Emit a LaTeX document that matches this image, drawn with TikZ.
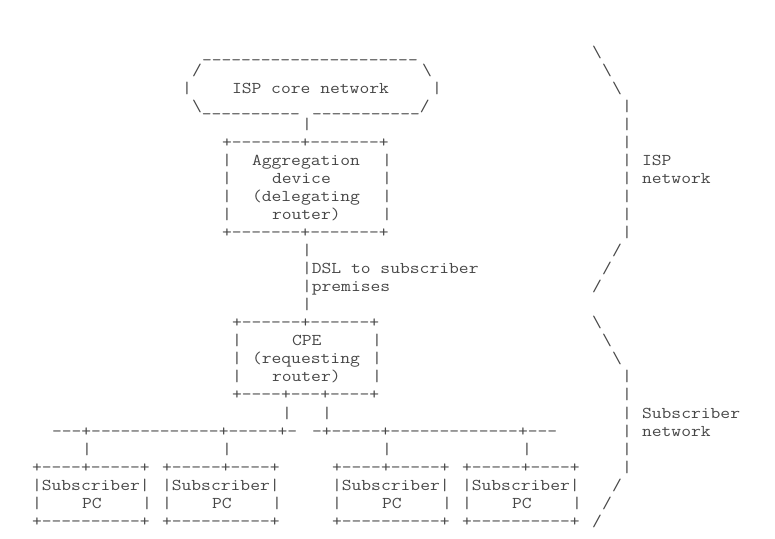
\documentclass[tikz,border=0pt]{standalone}
\usepackage{graphicx}
\tikzset{
  asc/.style={inner sep=0pt, outer sep=0pt, anchor=base west, text=black!72,
              font=\fontsize{16.5}{18}\selectfont\ttfamily}
}
% place text at (line, column) of the character grid
\newcommand\putch[4]{\node[asc] (#1) at ({32+10*#3},{57+18.05*#2}) {\scalebox{1.1544}[1]{#4}};}
\newcommand\hy[1]{\foreach\i in {1,...,#1}{-}}
\newcommand\us[1]{\foreach\i in {1,...,#1}{\_}}
\newcommand\bs{\textbackslash}
\begin{document}
\begin{tikzpicture}[x=1pt,y=-1pt]
\useasboundingbox (0,0) rectangle (775,538);
% ISP core network
\putch{u0}{0}{17}{\us{22}}
\putch{r0}{0}{56}{\bs}
\putch{a1}{1}{16}{/}
\putch{b1}{1}{39}{\bs}
\putch{r1}{1}{57}{\bs}
\putch{a2}{2}{15}{|}
\putch{core}{2}{20}{ISP core network}
\putch{b2}{2}{40}{|}
\putch{r2}{2}{58}{\bs}
\putch{a3}{3}{16}{\bs\us{10}}
\putch{b3}{3}{28}{\us{11}/}
\putch{r3}{3}{59}{|}
\putch{a4}{4}{27}{|}
\putch{r4}{4}{59}{|}
% Aggregation device
\putch{agt}{5}{19}{+\hy7+\hy7+}
\putch{r5}{5}{59}{|}
\putch{a6}{6}{19}{|}
\putch{ag1}{6}{22}{Aggregation}
\putch{b6}{6}{35}{|}
\putch{r6}{6}{59}{|}
\putch{ispl}{6}{61}{ISP}
\putch{a7}{7}{19}{|}
\putch{ag2}{7}{24}{device}
\putch{b7}{7}{35}{|}
\putch{r7}{7}{59}{|}
\putch{ispn}{7}{61}{network}
\putch{a8}{8}{19}{|}
\putch{ag3}{8}{22}{(delegating}
\putch{b8}{8}{35}{|}
\putch{r8}{8}{59}{|}
\putch{a9}{9}{19}{|}
\putch{ag4}{9}{24}{router)}
\putch{b9}{9}{35}{|}
\putch{r9}{9}{59}{|}
\putch{agb}{10}{19}{+\hy7+\hy7+}
\putch{r10}{10}{59}{|}
% DSL link
\putch{a11}{11}{27}{|}
\putch{r11}{11}{58}{/}
\putch{dsl}{12}{27}{|DSL to subscriber}
\putch{r12}{12}{57}{/}
\putch{prem}{13}{27}{|premises}
\putch{r13}{13}{56}{/}
\putch{a14}{14}{27}{|}
% CPE
\putch{cpt}{15}{20}{+\hy6+\hy6+}
\putch{r15}{15}{56}{\bs}
\putch{a16}{16}{20}{|}
\putch{cpe1}{16}{26}{CPE}
\putch{b16}{16}{34}{|}
\putch{r16}{16}{57}{\bs}
\putch{a17}{17}{20}{|}
\putch{cpe2}{17}{22}{(requesting}
\putch{b17}{17}{34}{|}
\putch{r17}{17}{58}{\bs}
\putch{a18}{18}{20}{|}
\putch{cpe3}{18}{24}{router)}
\putch{b18}{18}{34}{|}
\putch{r18}{18}{59}{|}
\putch{cpb}{19}{20}{+\hy4+\hy3+\hy4+}
\putch{r19}{19}{59}{|}
\putch{a20}{20}{25}{|}
\putch{b20}{20}{29}{|}
\putch{r20}{20}{59}{|}
\putch{subl}{20}{61}{Subscriber}
% LANs
\putch{lanl}{21}{2}{\hy3+\hy{13}+\hy5+-}
\putch{lanr}{21}{28}{-+\hy5+\hy{13}+\hy3}
\putch{r21}{21}{59}{|}
\putch{subn}{21}{61}{network}
\putch{a22}{22}{5}{|}
\putch{b22}{22}{19}{|}
\putch{c22}{22}{35}{|}
\putch{d22}{22}{49}{|}
\putch{r22}{22}{59}{|}
\putch{p1t}{23}{0}{+\hy4+\hy5+}
\putch{p2t}{23}{13}{+\hy5+\hy4+}
\putch{p3t}{23}{30}{+\hy4+\hy5+}
\putch{p4t}{23}{43}{+\hy5+\hy4+}
\putch{r23}{23}{59}{|}
\putch{p1a}{24}{0}{|Subscriber|}
\putch{p2a}{24}{13}{|Subscriber|}
\putch{p3a}{24}{30}{|Subscriber|}
\putch{p4a}{24}{43}{|Subscriber|}
\putch{r24}{24}{58}{/}
\putch{p1l}{25}{0}{|}
\putch{p1b}{25}{5}{PC}
\putch{p1r}{25}{11}{|}
\putch{p2l}{25}{13}{|}
\putch{p2b}{25}{18}{PC}
\putch{p2r}{25}{24}{|}
\putch{p3l}{25}{30}{|}
\putch{p3b}{25}{35}{PC}
\putch{p3r}{25}{41}{|}
\putch{p4l}{25}{43}{|}
\putch{p4b}{25}{48}{PC}
\putch{p4r}{25}{54}{|}
\putch{r25}{25}{57}{/}
\putch{p1c}{26}{0}{+\hy{10}+}
\putch{p2c}{26}{13}{+\hy{10}+}
\putch{p3c}{26}{30}{+\hy{10}+}
\putch{p4c}{26}{43}{+\hy{10}+}
\putch{r26}{26}{56}{/}
\end{tikzpicture}
\end{document}
